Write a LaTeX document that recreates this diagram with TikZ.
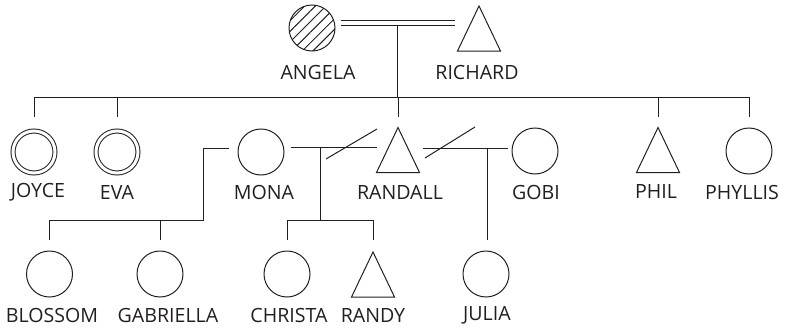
\documentclass[tikz,border=0pt]{standalone}
\usepackage{fontspec}
\setmainfont{Open Sans}
\usetikzlibrary{patterns.meta}
\definecolor{ink}{RGB}{35,31,32}

\begin{document}
\begin{tikzpicture}[x=1pt, y=-1pt, line width=1pt, draw=ink, text=ink,
  female/.style={draw, circle, minimum size=46pt, inner sep=0pt},
  twin/.style={female, double, double distance=3pt, minimum size=42pt},
  male/.style={minimum width=42pt, minimum height=44pt, inner sep=0pt},
  who/.style={font=\fontsize{19.6}{21}\selectfont, inner sep=0pt}]
\useasboundingbox (0,0) rectangle (789,332);
%grandparents
\node[female, pattern={Lines[angle=45, distance=7.5pt, line width=1pt]}, pattern color=ink] (angela) at (312,28) {};
\node[male] (richard) at (479,28.5) {};
%children
\node[twin] (joyce) at (34,152) {};
\node[twin] (eva) at (117,152) {};
\node[female] (mona) at (261,152) {};
\node[male] (randall) at (398,150) {};
\node[female] (gobi) at (535,151) {};
\node[male] (phil) at (658,150) {};
\node[female] (phyllis) at (749,151) {};
%grandchildren
\node[female] (blossom) at (49.5,274) {};
\node[female] (gabriella) at (160,274) {};
\node[female] (christa) at (287,274) {};
\node[male] (randy) at (373,274.5) {};
\node[female] (julia) at (486,274) {};
%triangles
\foreach \n in {richard, randall, phil, randy} \draw (\n.north) -- (\n.south east) -- (\n.south west) -- cycle;
%names
\node[who] (tangela) at (318,72) {ANGELA};
\node[who] (trichard) at (477,72) {RICHARD};
\node[who] (tjoyce) at (38,192) {JOYCE};
\node[who] (teva) at (117,192) {EVA};
\node[who] (tmona) at (264,192) {MONA};
\node[who] (trandall) at (400,192) {RANDALL};
\node[who] (tgobi) at (536,192) {GOBI};
\node[who] (tphil) at (656,192) {PHIL};
\node[who] (tphyllis) at (742,192) {PHYLLIS};
\node[who] (tblossom) at (52,315) {BLOSSOM};
\node[who] (tgabriella) at (168,315) {GABRIELLA};
\node[who] (tchrista) at (289,315) {CHRISTA};
\node[who] (trandy) at (373,315) {RANDY};
\node[who] (tjulia) at (487,315) {JULIA};
%junctions
\coordinate (wed) at (397.5,25.5);
\coordinate (sib) at (0,97);
\coordinate (kid) at (0,117);
\coordinate (mr) at (320.5,147);
\coordinate (rg) at (487,148);
\coordinate (bar) at (0,220);
\coordinate (gkid) at (0,240);
%marriages
\draw[double, double distance=3.3pt] ([shift={(5,-5)}]angela.east) -- ([shift={(-3,-5.5)}]richard.west);
\draw (wed) -- (wed |- sib);
\draw (joyce |- sib) -- (phyllis |- sib);
\foreach \n in {joyce, eva, randall, phil, phyllis} \draw (\n |- sib) -- (\n |- kid);
\draw ([shift={(6,-5)}]mona.east) -- ([shift={(0,-3)}]randall.west);
\draw ([shift={(5.5,12)}]mr) -- ([shift={(56.5,-18)}]mr); %divorce
\draw ([shift={(3,-2)}]randall.east) -- ([shift={(-4,-3)}]gobi.west);
\draw ([shift={(-62,10)}]rg) -- ([shift={(-12,-21)}]rg); %divorce
%offspring
\draw (mr) -- (mr |- bar);
\draw (christa |- bar) -- (randy |- bar);
\foreach \n in {christa, randy} \draw (\n |- bar) -- (\n |- gkid);
\draw (rg) -- (rg |- gkid);
\draw ([shift={(-9,-4)}]mona.west) -| (203,220) -- (blossom |- bar);
\foreach \n in {blossom, gabriella} \draw (\n |- bar) -- (\n |- gkid);
\end{tikzpicture}
\end{document}
